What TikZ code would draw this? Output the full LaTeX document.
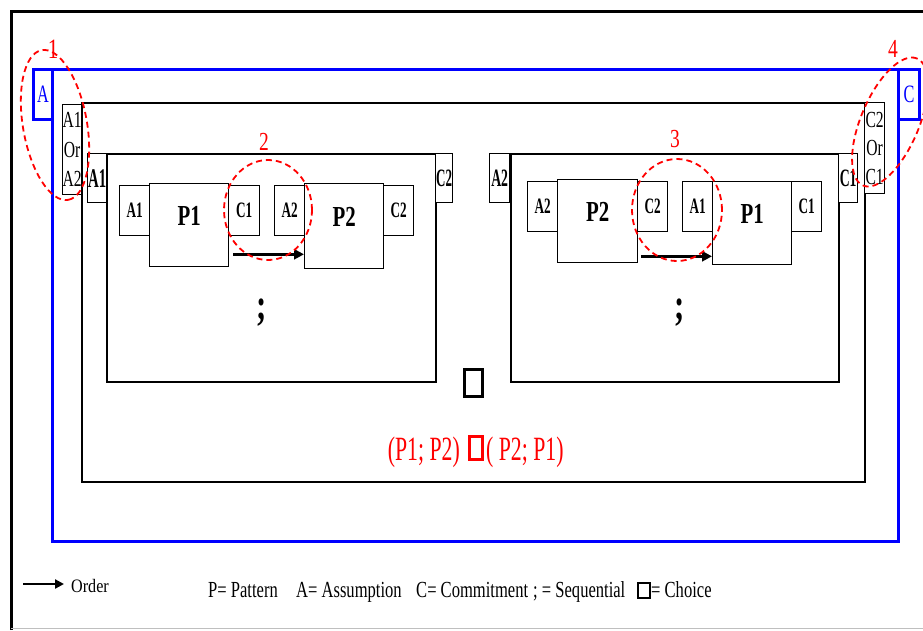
\documentclass[tikz,border=0pt]{standalone}
\usepackage{fontspec}
\setmainfont{Liberation Serif}
\usepackage{graphicx}
\usetikzlibrary{arrows.meta,calc}
\definecolor{pblue}{RGB}{0,0,255}
\definecolor{pred}{RGB}{255,0,0}
\newcommand{\nar}[3]{\scalebox{#1}[1]{\fontsize{#2}{#2}\selectfont #3}}
\begin{document}
\begin{tikzpicture}[x=1pt,y=-1pt,
  box/.style={draw=black,line width=1.3pt,fill=white,inner sep=0pt,anchor=north west},
  bigbox/.style={draw=black,line width=1.5pt,inner sep=0pt,anchor=north west},
  bluebox/.style={draw=pblue,line width=3pt,inner sep=0pt,anchor=north west,text=pblue},
  pbox/.style={box,text depth=18pt},
  reddash/.style={draw=pred,line width=1.8pt,dash pattern=on 6pt off 4pt},
  orderarrow/.style={line width=3.2pt,-{Triangle[length=10pt,width=10pt]}},
  numlabel/.style={text=pred,anchor=base,inner sep=0pt},
  legend/.style={anchor=base west,inner sep=0pt}
]
\useasboundingbox (0,0) rectangle (923,630);
\fill[white] (0,0) rectangle (923,630);
% frame
\draw[line width=3pt] (11,630) -- (11,11) -- (923,11);
\draw[black!25,line width=1pt] (11,628) -- (923,628);
% blue outer
\node[bluebox,minimum width=846pt,minimum height=472pt] (outer) at (51,68) {};
\node[bluebox,fill=white,minimum width=19pt,minimum height=50pt] (tagA) at (32,68) {\nar{0.65}{25}{A}};
\node[bluebox,fill=white,minimum width=21pt,minimum height=50pt] (tagC) at (897,68) {\nar{0.65}{25}{C}};
% big box
\node[bigbox,minimum width=783pt,minimum height=379pt] (big) at (81,102) {};
\node[box,minimum width=19pt,minimum height=90pt,align=center,font=\fontsize{23}{29.5}\selectfont] (tagAorA) at (62,104)
  {\scalebox{0.68}[1]{A1}\\\scalebox{0.68}[1]{Or}\\\scalebox{0.68}[1]{A2}};
\node[box,minimum width=20pt,minimum height=91pt,align=center,font=\fontsize{23}{28.5}\selectfont] (tagCorC) at (864,102)
  {\scalebox{0.68}[1]{C2}\\\scalebox{0.68}[1]{Or}\\\scalebox{0.68}[1]{C1}};
% left inner
\node[bigbox,minimum width=329pt,minimum height=228pt] (left) at (106,153) {};
\node[box,minimum width=19pt,minimum height=49pt] (lA1t) at (87,153) {\nar{0.55}{27}{\bfseries A1}};
\node[box,minimum width=17pt,minimum height=49pt] (lC2t) at (435,153) {\nar{0.52}{25}{\bfseries C2}};
% right inner
\node[bigbox,minimum width=328pt,minimum height=228pt] (right) at (510,153) {};
\node[box,minimum width=20pt,minimum height=49pt] (rA2t) at (489,153) {\nar{0.55}{25}{\bfseries A2}};
\node[box,minimum width=19pt,minimum height=49pt] (rC1t) at (838,153) {\nar{0.55}{25}{\bfseries C1}};
% left contents
\node[box,minimum width=30pt,minimum height=50pt] (lA1) at (119,185) {\nar{0.6}{22}{\bfseries A1}};
\node[pbox,minimum width=79pt,minimum height=83pt] (lP1) at (149,183) {\nar{0.72}{29}{\bfseries P1}};
\node[box,minimum width=31pt,minimum height=50pt] (lC1) at (228,185) {\nar{0.6}{22}{\bfseries C1}};
\node[box,minimum width=30pt,minimum height=50pt] (lA2) at (274,185) {\nar{0.6}{22}{\bfseries A2}};
\node[pbox,minimum width=79pt,minimum height=85pt] (lP2) at (304,183) {\nar{0.72}{29}{\bfseries P2}};
\node[box,minimum width=30pt,minimum height=50pt] (lC2) at (383,185) {\nar{0.6}{22}{\bfseries C2}};
\draw[orderarrow] ([xshift=4pt,yshift=13pt]lP1.south east) -- ([yshift=15pt]lP2.south west);
% right contents
\node[box,minimum width=30pt,minimum height=50pt] (rA2) at (527,181) {\nar{0.6}{22}{\bfseries A2}};
\node[pbox,minimum width=80pt,minimum height=83pt] (rP2) at (557,179) {\nar{0.72}{29}{\bfseries P2}};
\node[box,minimum width=30pt,minimum height=50pt] (rC2) at (637,181) {\nar{0.6}{22}{\bfseries C2}};
\node[box,minimum width=30pt,minimum height=50pt] (rA1) at (682,181) {\nar{0.6}{22}{\bfseries A1}};
\node[pbox,minimum width=79pt,minimum height=83pt] (rP1) at (712,181) {\nar{0.72}{29}{\bfseries P1}};
\node[box,minimum width=30pt,minimum height=50pt] (rC1) at (791,181) {\nar{0.6}{22}{\bfseries C1}};
\draw[orderarrow] ([xshift=3pt,yshift=7pt]rP2.south east) -- ([yshift=9pt]rP1.south west);
% semicolons
\node[inner sep=0pt] (semiL) at (262,313) {\nar{0.7}{44}{\bfseries ;}};
\node[inner sep=0pt] (semiR) at (680,313) {\nar{0.7}{44}{\bfseries ;}};
% choice square
\node[draw=black,line width=3pt,inner sep=0pt,anchor=north west,minimum width=18pt,minimum height=27pt] (choice) at (463,368) {};
% red formula
\node[text=pred,anchor=base east,inner sep=0pt] (fl) at (460,460) {\nar{0.64}{34}{(P1; P2)}};
\node[draw=pred,line width=2.5pt,inner sep=0pt,anchor=north west,minimum width=13pt,minimum height=23pt] (fsq) at (468,435) {};
\node[text=pred,anchor=base west,inner sep=0pt] (fr) at (486,460) {\nar{0.64}{34}{( P2; P1)}};
% red dashed circles
\draw[reddash] (268,210) ellipse [x radius=44pt,y radius=50pt];
\draw[reddash] (677,210) ellipse [x radius=45pt,y radius=51pt];
\draw[reddash,rotate around={-80:(55,125)}] (55,125) ellipse [x radius=76pt,y radius=32pt];
\draw[reddash,rotate around={67:(890,122)}] (890,122) ellipse [x radius=69pt,y radius=29pt];
% numbers
\node[numlabel] (n1) at (53,58) {\nar{0.75}{28}{1}};
\node[numlabel] (n2) at (264,150) {\nar{0.75}{26}{2}};
\node[numlabel] (n3) at (675,147) {\nar{0.75}{26}{3}};
\node[numlabel] (n4) at (893,57) {\nar{0.75}{26}{4}};
% legend
\coordinate (la) at (23,584);
\coordinate (lb) at (64,584);
\draw[line width=2.8pt,-{Triangle[length=9pt,width=9pt]}] (la) -- (lb);
\node[legend] (lorder) at (71,592) {\nar{0.85}{19}{Order}};
\node[legend] (lp) at (208,597) {\nar{0.72}{23}{P= Pattern}};
\node[legend] (la2) at (296,597) {\nar{0.72}{23}{A= Assumption}};
\node[legend] (lc) at (416,597) {\nar{0.72}{23}{C= Commitment}};
\node[legend] (ls) at (533,597) {\nar{0.72}{23}{; = Sequential}};
\node[draw=black,line width=2pt,inner sep=0pt,anchor=north west,minimum width=12pt,minimum height=15pt] (lsq) at (637,582) {};
\node[legend] (lch) at (651,597) {\nar{0.72}{23}{= Choice}};
\end{tikzpicture}
\end{document}
